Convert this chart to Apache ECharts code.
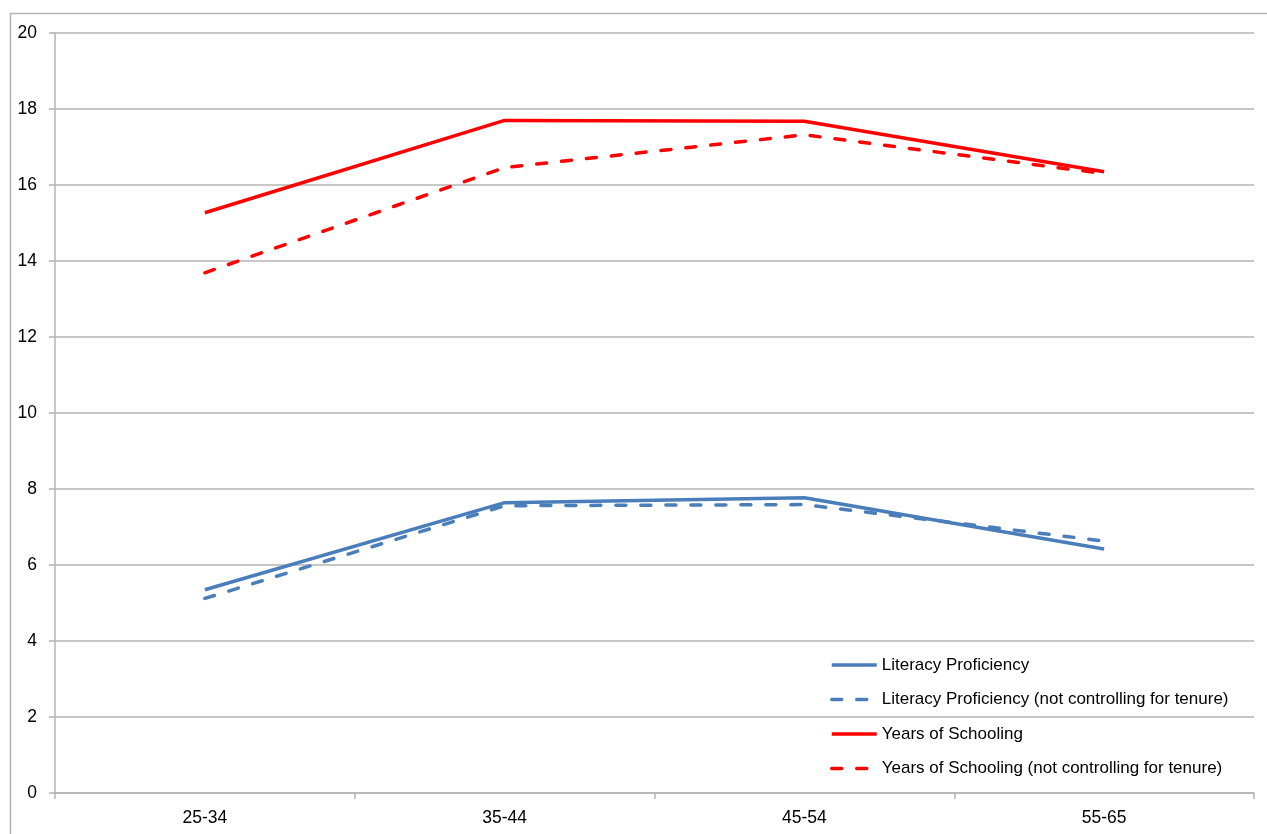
<!DOCTYPE html>
<html>
<head>
<meta charset="UTF-8">
<title>Returns by age group</title>
<script type="text/javascript" src="https://cdn.jsdelivr.net/npm/echarts@6/dist/echarts.min.js"></script>
<style>
  body{margin:0;background:#fff}
</style>
</head>
<body>
<div id="main" style="width:1267px;height:834px"></div>
<script type="text/javascript">
var ageGroups = ['25-34', '35-44', '45-54', '55-65'];
var literacy = [5.35, 7.64, 7.77, 6.42];
var literacyNoTenure = [5.12, 7.56, 7.59, 6.63];
var schooling = [15.27, 17.70, 17.68, 16.35];
var schoolingNoTenure = [13.69, 16.46, 17.32, 16.30];
var yTicks = {min: 0, max: 20, step: 2};

var font = '"Liberation Sans Narrow", "Liberation Sans", Arial, sans-serif';
var gridColor = '#b4b4b4';
var blue = '#4a7ebb';
var red = '#ff0000';

function lineSeries(name, data, color, dashed) {
    return {
        name: name,
        type: 'line',
        data: data,
        symbol: 'none',
        showSymbol: false,
        animation: false,
        lineStyle: {
            color: color,
            width: 3.5,
            type: dashed ? [10, 15] : 'solid',
            cap: dashed ? 'round' : 'butt'
        },
        itemStyle: {color: color}
    };
}

var myEcharts = echarts.init(document.getElementById('main'));

var option = {
    animation: false,
    graphic: [{
        type: 'rect',
        left: 8,
        top: 11,
        shape: {width: 1300, height: 900},
        style: {fill: 'none', stroke: gridColor, lineWidth: 1.5},
        silent: true
    }],
    grid: {left: 55, right: 13, top: 33, bottom: 41},
    legend: {
        orient: 'vertical',
        left: 825,
        top: 650,
        itemWidth: 45,
        itemHeight: 14,
        itemGap: 14.5,
        itemStyle: {opacity: 0},
        lineStyle: {width: 3.5},
        textStyle: {fontFamily: font, fontSize: 17, color: '#000', lineHeight: 20},
        data: ['Literacy Proficiency', 'Literacy Proficiency (not controlling for tenure)',
               'Years of Schooling', 'Years of Schooling (not controlling for tenure)']
    },
    xAxis: {
        type: 'category',
        data: ageGroups,
        boundaryGap: true,
        axisLine: {lineStyle: {color: gridColor, width: 1.5}},
        axisTick: {show: true, length: 6, lineStyle: {color: gridColor, width: 1.5}},
        axisLabel: {fontFamily: font, fontSize: 17.5, color: '#000', margin: 16},
        splitLine: {show: false}
    },
    yAxis: {
        type: 'value',
        min: yTicks.min,
        max: yTicks.max,
        interval: yTicks.step,
        axisLine: {show: true, lineStyle: {color: gridColor, width: 1.5}},
        axisTick: {show: true, length: 6, lineStyle: {color: gridColor, width: 1.5}},
        axisLabel: {fontFamily: font, fontSize: 17.5, color: '#000', margin: 18},
        splitLine: {lineStyle: {color: gridColor, width: 1.5}}
    },
    series: [
        lineSeries('Literacy Proficiency', literacy, blue, false),
        lineSeries('Literacy Proficiency (not controlling for tenure)', literacyNoTenure, blue, true),
        lineSeries('Years of Schooling', schooling, red, false),
        lineSeries('Years of Schooling (not controlling for tenure)', schoolingNoTenure, red, true)
    ]
};
myEcharts.setOption(option);
</script>
</body>
</html>
